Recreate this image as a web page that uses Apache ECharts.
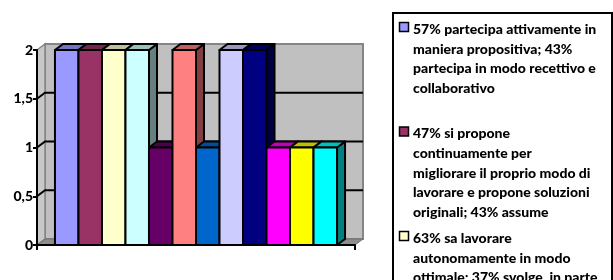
<!DOCTYPE html>
<html>
<head>
<meta charset="utf-8">
<script src="https://cdn.jsdelivr.net/npm/echarts@6/dist/echarts.min.js"></script>
<style>
html, body { margin: 0; padding: 0; background: #fff; }
#chart { width: 613px; height: 280px; }
</style>
</head>
<body>
<div id="chart"></div>
<script>
// dati del grafico (una sola categoria, 12 serie)
const categories = [''];
const seriesNames = [
  '57% partecipa attivamente in\nmaniera propositiva; 43%\npartecipa in modo recettivo e\ncollaborativo',
  '47% si propone\ncontinuamente per\nmigliorare il proprio modo di\nlavorare e propone soluzioni\noriginali; 43% assume',
  '63% sa lavorare\nautonomamente in modo\nottimale; 37% svolge, in parte',
  'Serie 4', 'Serie 5', 'Serie 6', 'Serie 7', 'Serie 8', 'Serie 9', 'Serie 10', 'Serie 11', 'Serie 12'
];
const seriesValues = [2, 2, 2, 2, 1, 2, 1, 2, 2, 1, 1, 1];
const seriesColors = ['#9999FF', '#993366', '#FFFFCC', '#CCFFFF', '#660066', '#FF8080',
  '#0066CC', '#CCCCFF', '#000080', '#FF00FF', '#FFFF00', '#00FFFF'];
const yTicks = [0, 0.5, 1, 1.5, 2];

const FONT = 'Lato';
const DX = 8, DY = -6;       // profondita' 3D
const gapRatio = 0.113;

function shade (hex, f) {
  const n = parseInt(hex.slice(1), 16);
  const r = Math.round(((n >> 16) & 255) * f);
  const g = Math.round(((n >> 8) & 255) * f);
  const b = Math.round((n & 255) * f);
  return 'rgb(' + r + ',' + g + ',' + b + ')';
}

// pareti e pavimento dietro le colonne
function renderWalls (params, api) {
  const cs = params.coordSys;
  const xl = cs.x, xr = cs.x + cs.width, yt = cs.y, yb = cs.y + cs.height;
  const children = [
    { type: 'rect', shape: { x: xl + DX, y: yt + DY, width: cs.width, height: cs.height },
      style: { fill: '#C0C0C0', stroke: '#858585', lineWidth: 2 } },
    { type: 'polygon', shape: { points: [[xl, yt], [xl + DX, yt + DY], [xl + DX, yb + DY], [xl, yb]] },
      style: { fill: '#C8C8C8', stroke: '#858585', lineWidth: 1.5 } },
    { type: 'polygon', shape: { points: [[xl, yb], [xl + DX, yb + DY], [xr + DX, yb + DY], [xr, yb]] },
      style: { fill: '#8E8E8E', stroke: '#6E6E6E', lineWidth: 1 } }
  ];
  yTicks.forEach(v => {
    if (v <= yTicks[0] || v >= yTicks[yTicks.length - 1]) return;
    const y = api.coord([0, v])[1];
    children.push({ type: 'polyline', shape: { points: [[xl, y], [xl + DX, y + DY], [xr + DX, y + DY]] },
      style: { stroke: '#000', lineWidth: 2, fill: null } });
  });
  return { type: 'group', children: children };
}

// colonna 3D: fronte, cima, lato
function renderBar (idx) {
  return function (params, api) {
    const top = api.coord([api.value(0), api.value(1)]);
    const base = api.coord([api.value(0), 0]);
    const band = api.size([1, 0])[0];
    const n = seriesValues.length;
    const bw = band * (1 - gapRatio) / n;
    const x0 = top[0] - bw * n / 2 + idx * bw;
    const x1 = x0 + bw;
    const yT = top[1], yB = base[1];
    const col = seriesColors[idx];
    const line = { stroke: '#000', lineWidth: 2, lineJoin: 'round' };
    return {
      type: 'group',
      children: [
        { type: 'polygon', z2: idx * 3,
          shape: { points: [[x1, yB], [x1 + DX, yB + DY], [x1 + DX, yT + DY], [x1, yT]] },
          style: Object.assign({ fill: shade(col, 0.5) }, line) },
        { type: 'polygon', z2: idx * 3 + 1,
          shape: { points: [[x0, yT], [x0 + DX, yT + DY], [x1 + DX, yT + DY], [x1, yT]] },
          style: Object.assign({ fill: shade(col, 0.75) }, line) },
        { type: 'rect', z2: idx * 3 + 2,
          shape: { x: x0, y: yT, width: bw, height: yB - yT },
          style: Object.assign({ fill: col }, line) }
      ]
    };
  };
}

const series = [{
  type: 'custom', name: 'pareti', silent: true, z: 1, clip: false,
  data: [[0, 0]], renderItem: renderWalls
}];
seriesValues.forEach((v, i) => {
  series.push({
    type: 'custom', name: seriesNames[i], z: 2, clip: false,
    itemStyle: { color: seriesColors[i] },
    data: [[0, v]], encode: { x: 0, y: 1 },
    renderItem: renderBar(i)
  });
});

// legenda disegnata a mano (icona allineata alla prima riga)
const legendItems = [{ type: 'rect', shape: { x: 393, y: 13, width: 219, height: 320 },
  style: { fill: '#fff', stroke: '#000', lineWidth: 2 } }];
seriesNames.forEach((name, i) => {
  const y = 19.5 + i * 104.5;
  legendItems.push({ type: 'rect', shape: { x: 399.5, y: y + 3, width: 9, height: 9 },
    style: { fill: seriesColors[i], stroke: '#000', lineWidth: 1.5 } });
  legendItems.push({ type: 'text', x: 413, y: y,
    style: { text: name, font: '900 14px ' + FONT, lineHeight: 19.7, fill: '#000', verticalAlign: 'top' } });
});

const chart = echarts.init(document.getElementById('chart'));
chart.setOption({
  animation: false,
  backgroundColor: '#fff',
  grid: { left: 37, top: 50, width: 318, height: 195 },
  xAxis: {
    type: 'category', data: categories, z: 10,
    axisLine: { lineStyle: { color: '#000', width: 2 } },
    axisTick: { show: true, length: 5, lineStyle: { color: '#000', width: 2 } },
    axisLabel: { show: false }
  },
  yAxis: {
    type: 'value', min: 0, max: 2, interval: 0.5, z: 10,
    axisLine: { show: true, lineStyle: { color: '#000', width: 2 } },
    axisTick: { show: true, length: 4, lineStyle: { color: '#000', width: 2 } },
    splitLine: { show: false },
    axisLabel: {
      margin: 4, color: '#000', fontWeight: 900, fontSize: 14, fontFamily: FONT,
      formatter: v => String(v).replace('.', ',')
    }
  },
  graphic: [{ type: 'group', silent: true, children: legendItems }],
  series: series
});
</script>
</body>
</html>
